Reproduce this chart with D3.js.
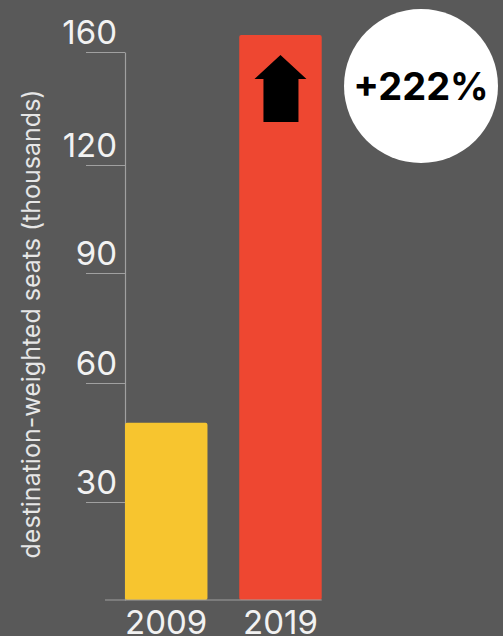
<!DOCTYPE html>
<html><head><meta charset="utf-8">
<script src="https://cdn.jsdelivr.net/npm/d3@7"></script>
<style>
html,body{margin:0;padding:0;background:#595959;}
svg{display:block;}
</style></head>
<body>
<svg id="chart" width="503" height="636"></svg>
<script>
const categories = ["2009", "2019"];
const values = [50, 166];
const tickValues = [30, 60, 90, 120, 160];
const tickLabels = ["30", "60", "90", "120", "160"];
const yTitle = "destination-weighted seats (thousands)";
const changeLabel = "+222%";
const barColors = ["#F7C52F", "#EE4731"];

const FONT = "Inter, 'Open Sans', sans-serif";
const svg = d3.select("#chart");
svg.append("rect").attr("width", 503).attr("height", 636).attr("fill", "#595959");

// axis positions in the stylised chart are not evenly spaced
const y = d3.scaleLinear()
  .domain([0, 30, 60, 90, 120, 160])
  .range([600, 502, 383, 273, 165, 52]);

const x = d3.scaleBand().domain(categories).range([125, 321.7]).paddingInner(0.278).paddingOuter(0);

// y axis
const axisG = svg.append("g").attr("transform", "translate(125,0)")
  .call(d3.axisLeft(y).tickValues(tickValues).tickSize(39).tickSizeOuter(0)
    .tickFormat((d, i) => tickLabels[i]));
axisG.select(".domain").attr("stroke", "#a0a0a0").attr("stroke-width", 1.2);
axisG.selectAll(".tick line").attr("stroke", "#a0a0a0").attr("stroke-width", 1.2);
axisG.selectAll(".tick text")
  .attr("x", -8).attr("dy", "-9").attr("y", 0)
  .attr("fill", "#f2f2f2")
  .style("font-family", FONT)
  .style("font-size", "33px");

// bars
svg.selectAll("rect.bar").data(categories).enter().append("rect")
  .attr("class", "bar")
  .attr("x", d => x(d))
  .attr("width", x.bandwidth())
  .attr("y", (d, i) => y(values[i]))
  .attr("height", (d, i) => y(0) - y(values[i]))
  .attr("rx", 2)
  .attr("fill", (d, i) => barColors[i]);

// baseline
svg.append("line").attr("x1", 105).attr("x2", x(categories[1]) + x.bandwidth())
  .attr("y1", y(0)).attr("y2", y(0))
  .attr("stroke", "#a0a0a0").attr("stroke-width", 1.2);

// category labels
svg.selectAll("text.cat").data(categories).enter().append("text")
  .attr("class", "cat")
  .attr("x", d => x(d) + x.bandwidth() / 2)
  .attr("y", 634)
  .attr("text-anchor", "middle")
  .attr("fill", "#f2f2f2")
  .style("font-family", FONT)
  .style("font-size", "33px")
  .text(d => d);

// y title
svg.append("text")
  .attr("transform", "translate(40,324) rotate(-90)")
  .attr("text-anchor", "middle")
  .attr("fill", "#e6e6e6")
  .style("font-family", FONT)
  .style("font-size", "25px")
  .text(yTitle);

// arrow in 2019 bar
const cx = x(categories[1]) + x.bandwidth() / 2;
const tipY = y(values[1]) + 20;
const arrow = [
  [cx, tipY], [cx + 26, tipY + 24], [cx + 18, tipY + 24], [cx + 18, tipY + 67],
  [cx - 17, tipY + 67], [cx - 17, tipY + 24], [cx - 26, tipY + 24]
];
svg.append("path").attr("d", d3.line()(arrow) + "Z").attr("fill", "#000");

// circle badge
svg.append("circle").attr("cx", 421).attr("cy", 86).attr("r", 77).attr("fill", "#fff");
svg.append("text").attr("x", 421).attr("y", 100)
  .attr("text-anchor", "middle")
  .attr("fill", "#000")
  .style("font-family", FONT)
  .style("font-weight", "bold")
  .style("font-size", "38px")
  .text(changeLabel);
</script>
</body></html>
